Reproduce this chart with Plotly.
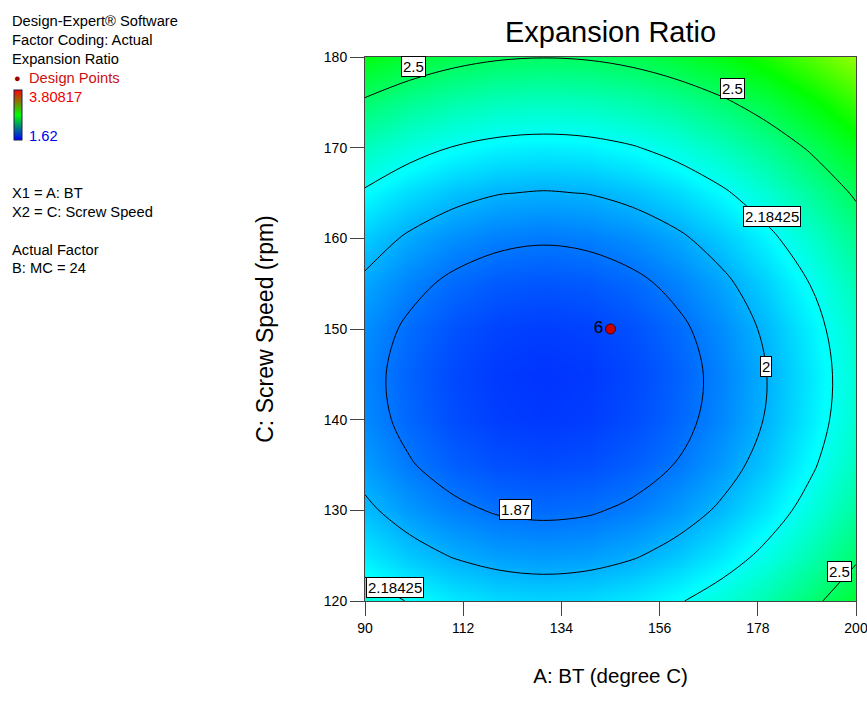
import plotly.graph_objects as go

# ---------------- data ----------------
bt = [90, 100, 110, 120, 130, 140, 150, 160, 170, 180, 190, 200]
screw_speed = [120, 125, 130, 135, 140, 145, 150, 155, 160, 165, 170, 175, 180]
expansion_ratio = [
    [2.252, 2.176, 2.121, 2.088, 2.076, 2.087, 2.119, 2.172, 2.248, 2.345, 2.464, 2.604],
    [2.123, 2.046, 1.992, 1.959, 1.947, 1.957, 1.989, 2.043, 2.119, 2.216, 2.334, 2.475],
    [2.024, 1.947, 1.893, 1.859, 1.848, 1.858, 1.890, 1.944, 2.019, 2.117, 2.235, 2.376],
    [1.955, 1.878, 1.823, 1.790, 1.779, 1.789, 1.821, 1.875, 1.950, 2.047, 2.166, 2.307],
    [1.915, 1.839, 1.784, 1.751, 1.740, 1.750, 1.782, 1.836, 1.911, 2.008, 2.127, 2.267],
    [1.906, 1.830, 1.775, 1.742, 1.730, 1.741, 1.773, 1.826, 1.902, 1.999, 2.118, 2.258],
    [1.927, 1.850, 1.796, 1.762, 1.751, 1.761, 1.793, 1.847, 1.922, 2.020, 2.138, 2.279],
    [1.977, 1.901, 1.846, 1.813, 1.802, 1.812, 1.844, 1.898, 1.973, 2.070, 2.189, 2.329],
    [2.058, 1.982, 1.927, 1.894, 1.882, 1.893, 1.925, 1.978, 2.054, 2.151, 2.270, 2.410],
    [2.168, 2.092, 2.037, 2.004, 1.993, 2.003, 2.035, 2.089, 2.164, 2.261, 2.380, 2.521],
    [2.309, 2.232, 2.178, 2.145, 2.133, 2.143, 2.175, 2.229, 2.305, 2.402, 2.520, 2.661],
    [2.479, 2.403, 2.348, 2.315, 2.304, 2.314, 2.346, 2.400, 2.475, 2.572, 2.691, 2.831],
    [2.680, 2.603, 2.548, 2.515, 2.504, 2.514, 2.546, 2.600, 2.675, 2.772, 2.891, 3.032],
]
contour_levels = [1.87, 2.0, 2.18425, 2.5]
contour_label_text = ["2.5", "2.5", "2.18425", "2", "1.87", "2.18425", "2.5"]
design_bt = [145]
design_speed = [150]
design_count = ["6"]
z_min = 1.62
z_max = 3.80817
x_ticks = [90, 112, 134, 156, 178, 200]
y_ticks = [120, 130, 140, 150, 160, 170, 180]

# ---------------- styling ----------------
FONT = "Arial, 'Liberation Sans', sans-serif"
rainbow = [[0.0, "#0000FF"], [0.25, "#00FFFF"], [0.5, "#00FF00"],
           [0.75, "#FFFF00"], [1.0, "#FF0000"]]
legend_scale = [[0.0, "#0000FF"], [0.5, "#00FF00"], [1.0, "#FF0000"]]

W, H = 867, 716
ML, MR, MT, MB = 365, 11, 57, 115
PW, PH = W - ML - MR, H - MT - MB


def px(x):
    return (x - ML) / PW


def py(y):
    return (H - MB - y) / PH


fig = go.Figure()

fig.add_trace(go.Heatmap(
    x=bt, y=screw_speed, z=expansion_ratio, zsmooth="best",
    zmin=z_min, zmax=z_max, colorscale=rainbow, showscale=False,
    hoverinfo="skip"))

for lvl in contour_levels:
    fig.add_trace(go.Contour(
        x=bt, y=screw_speed, z=expansion_ratio, autocontour=False,
        contours=dict(start=lvl, end=lvl, size=1, coloring="none",
                      showlabels=False),
        line=dict(color="black", width=1, smoothing=1),
        showscale=False, hoverinfo="skip"))

# legend colour bar (Design-Expert style)
fig.add_trace(go.Scatter(
    x=[None], y=[None], mode="markers", showlegend=False, hoverinfo="skip",
    marker=dict(color=[z_min], cmin=z_min, cmax=z_max, colorscale=legend_scale,
                showscale=True,
                colorbar=dict(x=px(14), xanchor="left", xpad=0,
                              y=py(115), yanchor="middle", ypad=0,
                              len=50, lenmode="pixels",
                              thickness=8, thicknessmode="pixels",
                              outlinecolor="#1a1a4a", outlinewidth=1,
                              showticklabels=False, ticks="")))
)

# design point
fig.add_trace(go.Scatter(
    x=design_bt, y=design_speed, mode="markers+text", text=design_count,
    textposition="middle left", textfont=dict(family=FONT, size=17, color="black"),
    marker=dict(size=10, color="#CC0000", line=dict(color="#400000", width=1)),
    showlegend=False, hoverinfo="skip"))

# contour labels (white boxes)
label_pos = [(100.9, 178.9), (172.4, 176.5), (181.1, 162.4), (179.9, 145.9),
             (123.8, 130.1), (96.8, 121.5), (196.3, 123.3)]
annotations = []
for t, (lx, ly) in zip(contour_label_text, label_pos):
    annotations.append(dict(
        x=lx, y=ly, xref="x", yref="y", text=t, showarrow=False,
        font=dict(family=FONT, size=15, color="black"),
        bgcolor="white", bordercolor="black", borderwidth=1, borderpad=1))

# left info block
info = [
    ("Design-Expert® Software", 10, 21, "black"),
    ("Factor Coding: Actual", 10, 40, "black"),
    ("Expansion Ratio", 10, 59, "black"),
    ("Design Points", 27, 78, "#CC1111"),
    ("3.80817", 27, 97, "#EE0000"),
    ("1.62", 27, 136, "#0000EE"),
    ("X1 = A: BT", 10, 193, "black"),
    ("X2 = C: Screw Speed", 10, 212, "black"),
    ("Actual Factor", 10, 250, "black"),
    ("B: MC = 24", 10, 268, "black"),
]
for t, x0, y0, c in info:
    annotations.append(dict(
        x=px(x0), y=py(y0), xref="paper", yref="paper", text=t,
        showarrow=False, xanchor="left", yanchor="middle",
        font=dict(family=FONT, size=14.7, color=c)))
annotations.append(dict(
    x=px(17), y=py(78), xref="paper", yref="paper", text="●",
    showarrow=False, xanchor="center", yanchor="middle",
    font=dict(family=FONT, size=11, color="#990000")))

axis_common = dict(
    showgrid=False, zeroline=False, showline=True, mirror=True,
    linecolor="#444444", linewidth=1, ticks="outside", ticklen=14,
    tickwidth=1, tickcolor="#444444", ticklabeloverflow="allow",
    automargin=False,
    tickfont=dict(family=FONT, size=14, color="black"))

fig.update_layout(
    width=W, height=H,
    margin=dict(l=ML, r=MR, t=MT, b=MB, autoexpand=False),
    paper_bgcolor="white", plot_bgcolor="white",
    font=dict(family=FONT, color="black"),
    title=dict(text="Expansion Ratio", x=0.5, xref="paper",
               y=1 - 32 / H, yref="container", xanchor="center", yanchor="middle",
               font=dict(family=FONT, size=29, color="black")),
    xaxis=dict(range=[90, 200], tickvals=x_ticks,
               title=dict(text="A: BT (degree C)", standoff=33,
                          font=dict(family=FONT, size=20.5)),
               **axis_common),
    yaxis=dict(range=[120, 180], tickvals=y_ticks,
               title=dict(text="C: Screw Speed (rpm)", standoff=43,
                          font=dict(family=FONT, size=23)),
               **axis_common),
    annotations=annotations,
    showlegend=False,
)

fig.write_html("out.html", config={"displayModeBar": False},
               post_script="document.body.style.margin='0';")
